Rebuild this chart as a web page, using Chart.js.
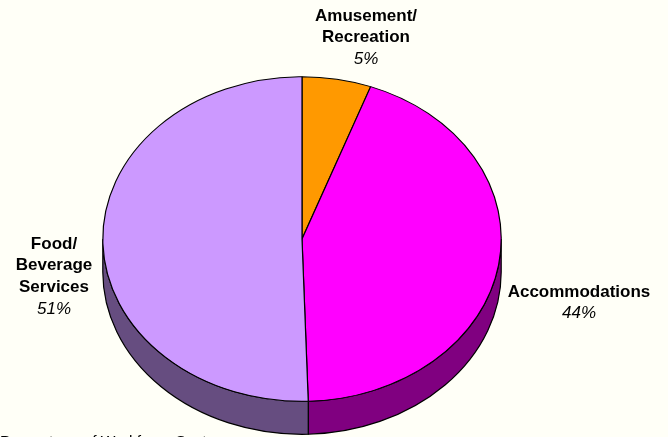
<!DOCTYPE html>
<html><head><meta charset="utf-8">
<script src="https://cdn.jsdelivr.net/npm/chart.js@4"></script>
<style>html,body{margin:0;padding:0;background:#FFFFF7;overflow:hidden}
#w{position:relative;width:668px;height:437px}canvas{display:block}</style>
</head><body><div id="w"><canvas id="c" width="668" height="437"></canvas></div>
<script>
const categories = ["Amusement/\nRecreation", "Accommodations", "Food/\nBeverage\nServices"];
const sliceValues = [5.6, 43.9, 50.5];
const shownPercents = ["5%", "44%", "51%"];
const sliceColors = ["#FF9900", "#FF00FF", "#CC99FF"];
const wallColors = ["#804D00", "#800080", "#664D80"];
const footnote = "Percentage of Workforce Sectors";

const CX = 302, CY = 239, RX = 201, RY = 163.8, DEPTH = 33;
const SQUASH = RY / RX;
const BORDER = 1.2;
const labelPos = [
  {x: 366, y: 16}, {x: 579, y: 292}, {x: 54, y: 244}
];
const ink = "#000";

function squash(ctx, cy) {
  ctx.translate(0, CY); ctx.scale(1, SQUASH); ctx.translate(0, -cy);
}
const pie3d = {
  id: "pie3d",
  beforeDatasetsDraw(chart) {
    const ctx = chart.ctx;
    const meta = chart.getDatasetMeta(0);
    meta.data.forEach((arc, i) => {
      const a0 = Math.max(arc.startAngle, 0);
      const a1 = Math.min(arc.endAngle, Math.PI);
      if (a1 <= a0) return;
      const rx = arc.outerRadius, ry = rx * SQUASH;
      const x1 = arc.x + rx * Math.cos(a1), y1 = CY + ry * Math.sin(a1);
      ctx.save();
      ctx.beginPath();
      ctx.ellipse(arc.x, CY, rx, ry, 0, a0, a1, false);
      ctx.lineTo(x1, y1 + DEPTH);
      ctx.ellipse(arc.x, CY + DEPTH, rx, ry, 0, a1, a0, true);
      ctx.closePath();
      ctx.fillStyle = wallColors[i];
      ctx.fill();
      ctx.lineWidth = BORDER; ctx.strokeStyle = ink; ctx.stroke();
      ctx.restore();
    });
    ctx.save();
    squash(ctx, meta.data[0].y);
  },
  afterDatasetsDraw(chart) {
    const ctx = chart.ctx;
    ctx.restore();
    ctx.save();
    ctx.fillStyle = "#000";
    ctx.textAlign = "center";
    ctx.textBaseline = "middle";
    categories.forEach((c, i) => {
      const lines = c.split("\n");
      let y = labelPos[i].y;
      ctx.font = "bold 17px 'Liberation Sans', Arial, sans-serif";
      lines.forEach(l => { ctx.fillText(l, labelPos[i].x, y); y += 21.7; });
      ctx.font = "italic 17px 'Liberation Sans', Arial, sans-serif";
      ctx.fillText(shownPercents[i], labelPos[i].x, y);
    });
    ctx.textAlign = "left";
    ctx.textBaseline = "alphabetic";
    ctx.font = "15.5px 'Liberation Sans', Arial, sans-serif";
    ctx.fillText(footnote, 0, 446);
    ctx.restore();
  }
};
new Chart(document.getElementById("c"), {
  type: "pie",
  data: { labels: categories, datasets: [{
    data: sliceValues, backgroundColor: sliceColors,
    borderColor: ink, borderWidth: BORDER, borderAlign: "center",
    hoverOffset: 0, offset: 0, hoverBorderWidth: BORDER
  }]},
  options: {
    responsive: false, animation: false,
    layout: { padding: { left: CX - RX - BORDER/2, right: 668 - CX - RX - BORDER/2, top: 239 - RX - BORDER/2, bottom: 437 - 239 - RX - BORDER/2 } },
    plugins: { legend: { display: false }, tooltip: { enabled: false } }
  },
  plugins: [pie3d]
});
</script></body></html>
